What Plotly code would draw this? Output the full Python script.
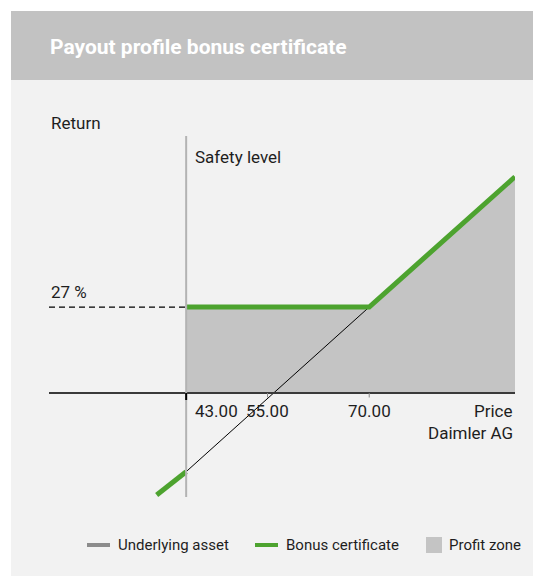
import plotly.graph_objects as go

# values (price in EUR, return in %)
barrier = 43
bonus_level = 27
price_ticks = [43, 55, 70]
tick_labels = ["43.00", "55.00", "70.00"]

underlying_price = [43, 70]
underlying_return = [-24.7, 27]

bonus_price = [38.65, 43, None, 43, 70, 91.5]
bonus_return = [-32.0, -24.7, None, 27, 27, 67.9]

zone_price = [43, 43, 70, 91.5, 91.5]
zone_return = [0, 27, 27, 67.9, 0]

x_range = [22.77, 91.5]
y_range = [-32.65, 80.7]

GREEN = "#4da32f"
ZONE = "#c4c4c4"
TEXT = "#1e1e1e"
FONT = "Roboto"

# the page body has an 8px margin, so the figure is drawn 8px in and 8px down
OFF = 8
FIG_W, FIG_H = 541 - OFF, 576 - OFF

# plot area in screen pixels: left 49, top 136, width 466, height 361
PL, PT, W, H = 49, 136, 466, 361
L, T = PL - OFF, PT - OFF
R, B = FIG_W - L - W, FIG_H - T - H


def px_x(px):
    return (px - PL) / W


def px_y(py):
    return (PT + H - py) / H


fig = go.Figure()

fig.add_trace(go.Scatter(x=zone_price, y=zone_return, fill="toself", fillcolor=ZONE,
                         mode="lines", line=dict(width=0), hoverinfo="skip",
                         name="Profit zone"))
fig.add_trace(go.Scatter(x=underlying_price, y=underlying_return, mode="lines",
                         line=dict(color="black", width=1), name="Underlying asset"))
fig.add_trace(go.Scatter(x=bonus_price, y=bonus_return, mode="lines",
                         line=dict(color=GREEN, width=5), connectgaps=False,
                         name="Bonus certificate"))

shapes = [
    # background panel + header
    dict(type="rect", xref="paper", yref="paper", x0=px_x(11), x1=px_x(541),
         y0=px_y(576), y1=px_y(80), fillcolor="#f2f2f2", line_width=0, layer="below"),
    dict(type="rect", xref="paper", yref="paper", x0=px_x(11), x1=px_x(541),
         y0=px_y(80), y1=px_y(11), fillcolor="#c2c2c2", line_width=0, layer="below"),
    # x axis at zero return
    dict(type="line", xref="paper", yref="y", x0=0, x1=1, y0=0, y1=0,
         line=dict(color="#3a3a3a", width=2)),
    # safety level
    dict(type="line", xref="x", yref="paper", x0=barrier, x1=barrier, y0=0, y1=1,
         line=dict(color="#b3b3b3", width=2)),
    # bonus level guide
    dict(type="line", xref="x", yref="y", x0=x_range[0], x1=barrier,
         y0=bonus_level, y1=bonus_level, line=dict(color="black", width=1.3, dash="6px,4px")),
]

for p in price_ticks:
    black = p == barrier
    shapes.append(dict(type="line", xref="x", yref="y", x0=p, x1=p, y0=0,
                       y1=-2.2 if black else -1.4,
                       line=dict(color="black" if black else "#8a8a8a", width=2 if black else 1)))

annotations = [
    dict(text="Payout profile bonus certificate", xref="paper", yref="paper",
         x=px_x(48), y=px_y(47), xanchor="left", yanchor="middle", showarrow=False,
         font=dict(family=FONT, size=21, color="white", weight="bold")),
    dict(text="Return", xref="paper", yref="paper", x=0, y=px_y(123),
         xanchor="left", yanchor="middle", showarrow=False),
    dict(text="Safety level", xref="x", yref="paper", x=barrier, xshift=7, y=px_y(157),
         xanchor="left", yanchor="middle", showarrow=False),
    dict(text=f"{bonus_level} %", xref="paper", yref="y", x=0, y=bonus_level, yshift=15,
         xanchor="left", yanchor="middle", showarrow=False),
    dict(text="Price", xref="paper", yref="paper", x=1, y=px_y(411),
         xanchor="right", yanchor="middle", showarrow=False),
    dict(text="Daimler AG", xref="paper", yref="paper", x=1, y=px_y(433),
         xanchor="right", yanchor="middle", showarrow=False),
]

for p, lab in zip(price_ticks, tick_labels):
    first = p == barrier
    annotations.append(dict(text=lab, xref="x", yref="paper", x=p, xshift=7 if first else 0,
                            y=px_y(411), xanchor="left" if first else "center",
                            yanchor="middle", showarrow=False))

# legend drawn by hand to match the compact swatches
legend_y = px_y(545)
for name, x0, x1, x_text, color in [("Underlying asset", 87, 110, 116, "#8c8c8c"),
                                     ("Bonus certificate", 255, 278, 284, GREEN)]:
    shapes.append(dict(type="line", xref="paper", yref="paper", x0=px_x(x0), x1=px_x(x1),
                       y0=legend_y, y1=legend_y, line=dict(color=color, width=4)))
    annotations.append(dict(text=name, xref="paper", yref="paper", x=px_x(x_text), y=legend_y,
                            xanchor="left", yanchor="middle", showarrow=False,
                            font=dict(size=15)))
shapes.append(dict(type="rect", xref="paper", yref="paper", x0=px_x(426), x1=px_x(442),
                   y0=px_y(553), y1=px_y(537), fillcolor=ZONE, line_width=0))
annotations.append(dict(text="Profit zone", xref="paper", yref="paper", x=px_x(447), y=legend_y,
                        xanchor="left", yanchor="middle", showarrow=False, font=dict(size=15)))

fig.update_layout(
    width=FIG_W, height=FIG_H,
    margin=dict(l=L, r=R, t=T, b=B),
    paper_bgcolor="white", plot_bgcolor="rgba(0,0,0,0)",
    font=dict(family=FONT, size=17, color=TEXT),
    showlegend=False,
    xaxis=dict(range=x_range, visible=False, fixedrange=True),
    yaxis=dict(range=y_range, visible=False, fixedrange=True),
    shapes=shapes, annotations=annotations,
)

fig.write_html("out.html")
